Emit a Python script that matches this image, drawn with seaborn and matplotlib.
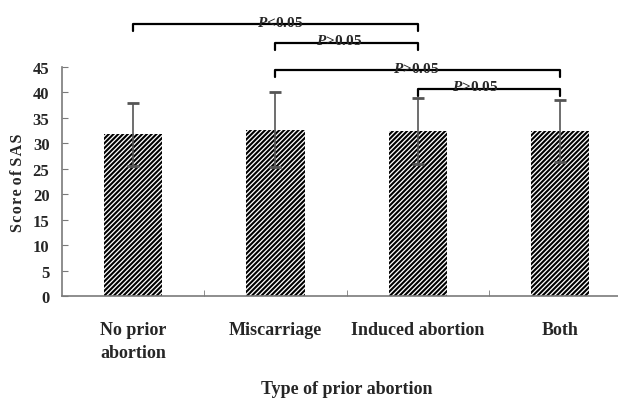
import pandas as pd
import matplotlib
matplotlib.use("Agg")
import matplotlib.pyplot as plt
import seaborn as sns

# data
categories = ["No prior\nabortion", "Miscarriage", "Induced abortion", "Both"]
sas_mean = [31.8, 32.7, 32.5, 32.5]
sas_sd = [6.2, 7.4, 6.5, 6.1]

# significance brackets: (left bar, right bar, bracket height, label)
bracket_left = [0, 1, 1, 2]
bracket_right = [2, 2, 3, 3]
bracket_y = [53.4, 49.8, 44.4, 40.7]
bracket_text = ["<0.05", ">0.05", ">0.05", ">0.05"]
bracket_text_x = [1.03, 1.45, 1.99, 2.40]

sns.set_style("white")
plt.rcParams["font.family"] = ["Liberation Serif", "DejaVu Serif"]
plt.rcParams["font.weight"] = "bold"
plt.rcParams["hatch.linewidth"] = 1.5
plt.rcParams["mathtext.fontset"] = "custom"
plt.rcParams["mathtext.it"] = "Liberation Serif:italic:bold"
plt.rcParams["mathtext.rm"] = "Liberation Serif:bold"

df = pd.DataFrame({"group": categories, "score": sas_mean})

fig = plt.figure(figsize=(6.18, 4.02), dpi=100)
ax = fig.add_axes([0.1003, 0.2612, 0.921, 0.5697])

sns.barplot(data=df, x="group", y="score", order=categories, color="white",
            width=0.41, errorbar=None, ax=ax, zorder=2)
for p in ax.patches:
    p.set_hatch("///////")
    p.set_edgecolor("black")
    p.set_linewidth(0)

ax.errorbar(range(len(categories)), sas_mean, yerr=sas_sd, fmt="none",
            ecolor="#555555", elinewidth=1.2, capsize=4, capthick=2, zorder=3)

ax.set_xlim(-0.5, 3.5)
ax.set_ylim(0, 45)
ax.set_yticks(range(0, 50, 5))

for s in ["top", "right"]:
    ax.spines[s].set_visible(False)
for s in ["left", "bottom"]:
    ax.spines[s].set_color("#7a7a7a")
    ax.spines[s].set_linewidth(1.2)

ax.tick_params(axis="y", direction="in", length=4, color="#7a7a7a", pad=9,
               labelsize=12, left=True)
ax.tick_params(axis="x", which="major", length=0, pad=18, labelsize=13)
ax.set_xticks([0.5, 1.5, 2.5], minor=True)
ax.tick_params(axis="x", which="minor", direction="in", length=4,
               color="#7a7a7a", bottom=True)
for lab in ax.get_xticklabels():
    lab.set_multialignment("left")
    lab.set_verticalalignment("top")
    lab.set_linespacing(1.5)

ax.set_xlabel("Type of prior abortion", fontsize=13, fontweight="bold", labelpad=13)
ax.set_ylabel("S\u200ac\u200ao\u200ar\u200ae o\u200af S\u200aA\u200aS", fontsize=11.5,
              fontweight="bold")
ax.yaxis.set_label_coords(-0.063, 0.5)

# significance brackets
leg = 1.4
for l, r, y, t, tx in zip(bracket_left, bracket_right, bracket_y,
                          bracket_text, bracket_text_x):
    ax.plot([l, l, r, r], [y - leg, y, y, y - leg], color="black", lw=1.6,
            clip_on=False, zorder=4)
    ax.text(tx, y - 0.3, r"$\mathit{P}$" + t, ha="center", va="baseline",
            fontsize=11, fontweight="bold", clip_on=False, zorder=5)

fig.savefig("out.png", dpi=100)
